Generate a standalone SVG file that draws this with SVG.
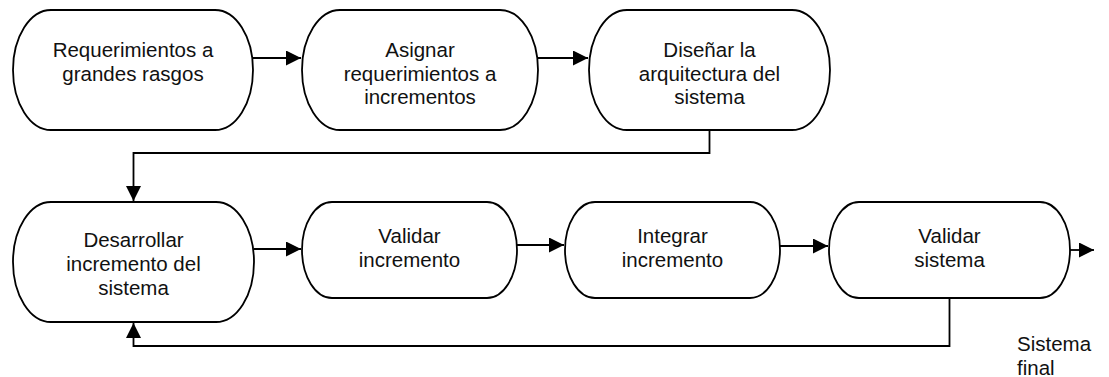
<svg xmlns="http://www.w3.org/2000/svg" width="1109" height="377" viewBox="0 0 1109 377">
<style>
.n{fill:#fff;stroke:#000;stroke-width:1.8}
.t{font-family:"Liberation Sans",Arial,sans-serif;font-size:20.5px;fill:#111;text-anchor:middle}
.l{font-family:"Liberation Sans",Arial,sans-serif;font-size:20.5px;fill:#111}
.c{fill:none;stroke:#000;stroke-width:1.8}
</style>
<defs>
<marker id="ah" markerUnits="userSpaceOnUse" markerWidth="16" markerHeight="16" refX="15" refY="7.5" orient="auto">
<path d="M0,0 L15,7.5 L0,15 z" fill="#000"/>
</marker>
</defs>
<rect width="1109" height="377" fill="#fff"/>
<g id="connectors">
<path class="c" d="M253,58 H301" marker-end="url(#ah)"/>
<path class="c" d="M538,58 H588" marker-end="url(#ah)"/>
<path class="c" d="M709.5,130 V153 H133.5 V201" marker-end="url(#ah)"/>
<path class="c" d="M254,249 H301" marker-end="url(#ah)"/>
<path class="c" d="M517,245 H564" marker-end="url(#ah)"/>
<path class="c" d="M780,246 H828" marker-end="url(#ah)"/>
<path class="c" d="M1070,250 H1094" marker-end="url(#ah)"/>
<path class="c" d="M949.5,298 V346 H133.5 V323" marker-end="url(#ah)"/>
</g>
<g id="n1">
<rect class="n" x="13" y="10" width="240" height="120" rx="38" ry="60"/>
<text class="t" x="133" y="57">Requerimientos a</text>
<text class="t" x="133" y="81">grandes rasgos</text>
</g>
<g id="n2">
<rect class="n" x="302" y="10" width="236" height="120" rx="38" ry="60"/>
<text class="t" x="420" y="57">Asignar</text>
<text class="t" x="420" y="81">requerimientos a</text>
<text class="t" x="420" y="104">incrementos</text>
</g>
<g id="n3">
<rect class="n" x="589" y="10" width="241" height="120" rx="38" ry="60"/>
<text class="t" x="709.5" y="57">Diseñar la</text>
<text class="t" x="709.5" y="81">arquitectura del</text>
<text class="t" x="709.5" y="104">sistema</text>
</g>
<g id="n4">
<rect class="n" x="13" y="202" width="241" height="120" rx="38" ry="60"/>
<text class="t" x="133.5" y="247">Desarrollar</text>
<text class="t" x="133.5" y="271">incremento del</text>
<text class="t" x="133.5" y="295">sistema</text>
</g>
<g id="n5">
<rect class="n" x="302" y="202" width="215" height="96" rx="30" ry="48"/>
<text class="t" x="409.5" y="243">Validar</text>
<text class="t" x="409.5" y="267">incremento</text>
</g>
<g id="n6">
<rect class="n" x="565" y="202" width="215" height="96" rx="30" ry="48"/>
<text class="t" x="672.5" y="243">Integrar</text>
<text class="t" x="672.5" y="267">incremento</text>
</g>
<g id="n7">
<rect class="n" x="829" y="202" width="241" height="96" rx="30" ry="48"/>
<text class="t" x="949.5" y="243">Validar</text>
<text class="t" x="949.5" y="267">sistema</text>
</g>
<g id="label">
<text class="l" x="1017" y="351">Sistema</text>
<text class="l" x="1017" y="375">final</text>
</g>
</svg>
